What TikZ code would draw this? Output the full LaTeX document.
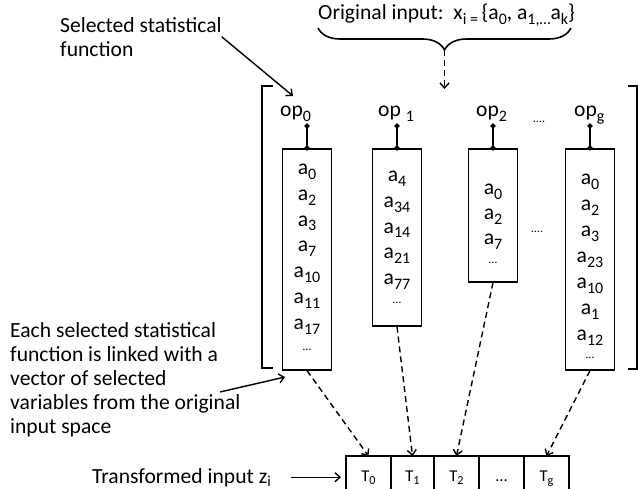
\documentclass[tikz,border=0pt]{standalone}
\usepackage{fontspec}
\setmainfont{Carlito}
\usetikzlibrary{positioning,arrows.meta,decorations.pathreplacing}

% lowered subscript, as in the original drawing
\newcommand{\sbs}[1]{\raisebox{-0.22em}{\scalebox{0.74}{#1}}}

\tikzset{
  txt/.style={font=\fontsize{21.6}{24}\selectfont, inner sep=0pt},
  small/.style={font=\fontsize{12}{14}\selectfont, inner sep=0pt},
  vecbox/.style={shape=rectangle, draw, line width=1.6pt, minimum width=49pt, inner sep=0pt, anchor=north},
  tbox/.style={shape=rectangle, draw, line width=1.6pt, minimum width=45pt, text height=17pt, text depth=17pt,
    inner xsep=0pt, inner ysep=8pt, outer sep=0pt, font=\fontsize{16.5}{18}\selectfont},
  stub/.style={line width=1.6pt, {Circle[length=5pt]}-{Circle[length=5pt]}, shorten <=-2.5pt, shorten >=-2.5pt},
  link/.style={line width=1.4pt, -{Straight Barb[length=5pt,width=9pt]}},
  dlink/.style={link, dash pattern=on 6pt off 4pt},
}

\begin{document}
\begin{tikzpicture}[x=1pt,y=-1pt]
\clip (0,0) rectangle (638,489);
\fill[white] (0,0) rectangle (638,489);

% top input
\node (orig) at (318,20) [txt,anchor=base west]{Original input:\ \ x\sbs{i =}\,\{a\sbs{0}, a\sbs{1,…}a\sbs{k}\}};
\draw [line width=1.6pt,decorate,decoration={brace,mirror,amplitude=22pt}] (318,28) -- (571,28);
\coordinate (bt) at (444.5,50);
\coordinate (bd) at (444.5,89);
\draw [dlink] (bt) to (bd);

% annotations
\node (sel) at (60,17) [txt,anchor=north west,align=left]{Selected statistical\\function};
\coordinate (selTip) at (293,96);
\draw [link] (sel.east) to (selTip);
\node (each) at (10,322) [txt,anchor=north west,align=left]{Each selected statistical\\function is linked with a\\vector of selected\\variables from the original\\input space};
\coordinate (eachA) at (220,392);
\coordinate (eachB) at (285,377);
\draw [link] (eachA) to (eachB);

% brackets
\draw [line width=1.6pt] (273,86) -- (262,86) -- (262,368) -- (273,368);
\draw [line width=1.6pt] (628,86) -- (637,86) -- (637,369) -- (628,369);

% statistical functions
\node (op0) at (280,117) [txt,anchor=base west]{op\sbs{0}};
\node (op1) at (378,117) [txt,anchor=base west]{op \sbs{1}};
\node (op2) at (476,117) [txt,anchor=base west]{op\sbs{2}};
\node (opg) at (574,117) [txt,anchor=base west]{op\sbs{g}};
\node (opdots) at (539,122) [small]{....};

% vectors of variables
\node (v0) at (307,148) [vecbox,minimum height=221pt]{};
\node (v1) at (397,148) [vecbox,minimum height=177pt]{};
\node (v2) at (493,148) [vecbox,minimum height=133pt]{};
\node (vg) at (590,148) [vecbox,minimum height=221pt]{};
\node (vdots) at (537,232) [small]{....};

\foreach \s [count=\i from 0] in {0,2,3,7,10,11,17}
  \node (a0-\i) at (307,174.5+25.8*\i) [txt,anchor=base]{a\sbs{\s}};
\foreach \s [count=\i from 0] in {4,34,14,21,77}
  \node (a1-\i) at (397,181.5+25.8*\i) [txt,anchor=base]{a\sbs{\s}};
\foreach \s [count=\i from 0] in {0,2,7}
  \node (a2-\i) at (493,195+25*\i) [txt,anchor=base]{a\sbs{\s}};
\foreach \s [count=\i from 0] in {0,2,3,23,10,1,12}
  \node (ag-\i) at (590,185+26*\i) [txt,anchor=base]{a\sbs{\s}};
\node (e0) at (307,351) [small,anchor=base]{…};
\node (e1) at (397,304) [small,anchor=base]{…};
\node (e2) at (493,264) [small,anchor=base]{…};
\node (eg) at (590,359) [small,anchor=base]{…};

\coordinate (s0) at (307,126);
\coordinate (s1) at (397,126);
\coordinate (s2) at (493,126);
\coordinate (sg) at (590,126);
\draw [stub] (s0) to (v0.north);
\draw [stub] (s1) to (v1.north);
\draw [stub] (s2) to (v2.north);
\draw [stub] (sg) to (vg.north);

% transformed input
\node (T0) at (368.5,481) [tbox,anchor=base]{T\sbs{0}};
\node (T1) [tbox,right=0pt of T0,minimum width=43pt]{T\sbs{1}};
\node (T2) [tbox,right=0pt of T1]{T\sbs{2}};
\node (T3) [tbox,right=0pt of T2]{…};
\node (Tg) [tbox,right=0pt of T3]{T\sbs{g}};
\node (trans) at (92,483) [txt,anchor=base west]{Transformed input z\textsubscript{i}};
\draw [link,shorten <=19pt,shorten >=5pt] (trans.east) to (trans.east -| T0.west);

\draw [dlink] (v0.south) to (T0.north);
\draw [dlink] (v1.south) to (T1.north);
\draw [dlink] (v2.south) to (T2.north);
\draw [dlink] (vg.south) to (Tg.north);
\end{tikzpicture}
\end{document}
